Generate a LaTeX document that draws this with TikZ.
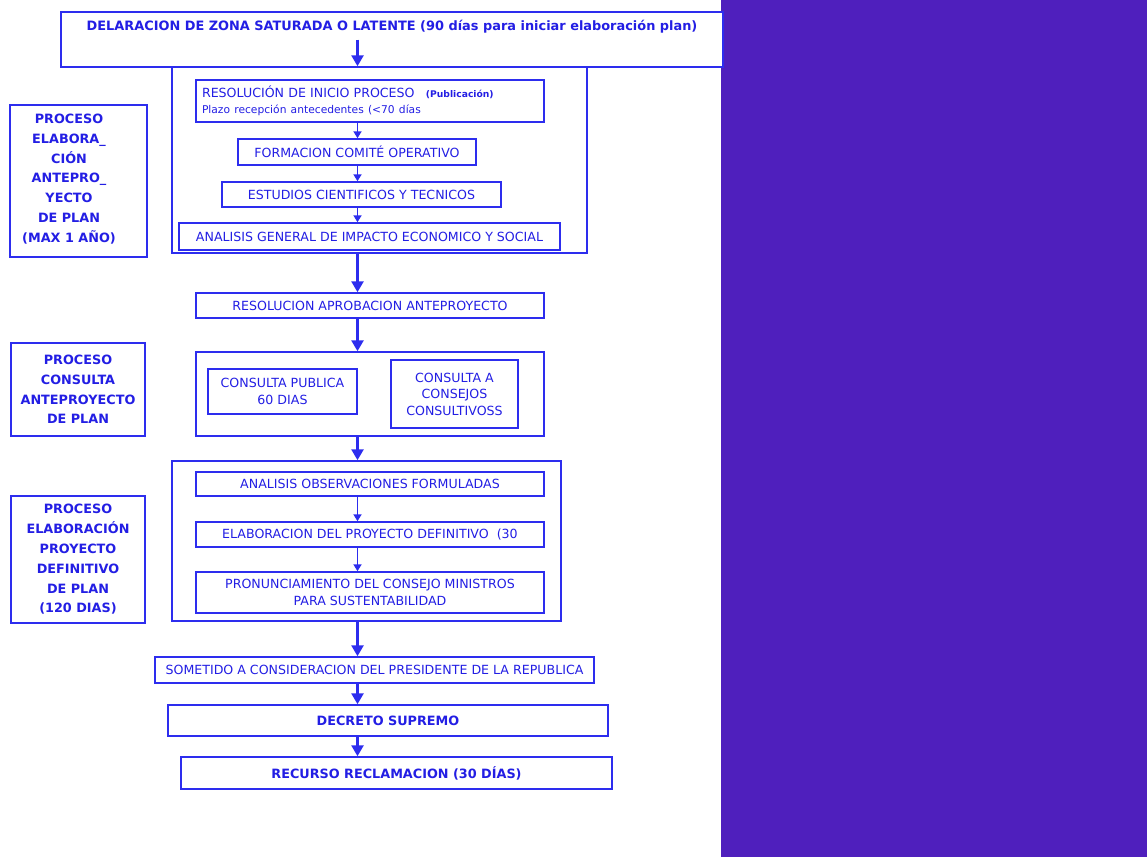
\documentclass[tikz,border=0pt]{standalone}
\usepackage{fontspec}
\setmainfont{DejaVu Sans}
\usetikzlibrary{arrows.meta}
\definecolor{fblue}{RGB}{45,45,238}
\definecolor{tblue}{RGB}{35,30,228}
\definecolor{purp}{RGB}{79,31,189}
\begin{document}
\begin{tikzpicture}[x=1pt,y=-1pt,
  box/.style={draw=fblue,line width=1.5pt,fill=white,inner sep=0pt,text=tblue,align=center,font=\fontsize{12.6}{16.5}\selectfont},
  lab/.style={draw=fblue,line width=1.5pt,fill=white,inner sep=0pt,text=tblue,align=center,font=\bfseries\fontsize{12.8}{19.8}\selectfont},
  txt/.style={inner sep=0pt,text=tblue,align=center},
  bigarr/.style={draw=fblue,line width=2.6pt,-{Triangle[width=12pt,length=11pt]}},
  smallarr/.style={draw=fblue,line width=1.8pt,-{Triangle[width=8pt,length=7pt]}}]
\useasboundingbox (0,0) rectangle (1147,857);
\fill[purp] (721,0) rectangle (1147,857);
\coordinate (axis) at (357.5,0);
% top
\node[box,minimum width=662pt,minimum height=55pt] (top) at (392,39.5) {};
\node[txt,font=\bfseries\fontsize{12.9}{15}\selectfont] (toptext) at (392,27) {DELARACION DE ZONA SATURADA O LATENTE (90 días para iniciar elaboración plan)};
% block 1
\node[box,minimum width=415pt,minimum height=186pt] (b1) at (379.5,160) {};
\node[box,minimum width=348pt,minimum height=42pt,text width=336pt,align=left] (res) at (370,101)
  {RESOLUCIÓN DE INICIO PROCESO\hspace{0.9em}{\bfseries\fontsize{9.2}{16}\selectfont(Publicación)}\\
   {\fontsize{10.7}{16}\selectfont Plazo recepción antecedentes (<70 días}};
\node[box,minimum width=238pt,minimum height=26pt] (form) at (357,152) {FORMACION COMITÉ OPERATIVO};
\node[box,minimum width=279pt,minimum height=25pt] (est) at (361.5,194.5) {ESTUDIOS CIENTIFICOS Y TECNICOS};
\node[box,minimum width=381pt,minimum height=27pt] (agen) at (369.5,236.5) {ANALISIS GENERAL DE IMPACTO ECONOMICO Y SOCIAL};
\node[lab,minimum width=137pt,minimum height=152pt] (l1) at (78.5,181) {};
\node[txt,font=\bfseries\fontsize{12.8}{19.8}\selectfont] (l1text) at (69,179)
  {PROCESO\\ELABORA\_\\CIÓN\\ANTEPRO\_\\YECTO\\DE PLAN\\(MAX 1 AÑO)};
% aprobacion
\node[box,minimum width=348pt,minimum height=25pt] (aprob) at (370,305.5) {RESOLUCION APROBACION ANTEPROYECTO};
% block 2
\node[box,minimum width=348pt,minimum height=84pt] (b2) at (370,394) {};
\node[box,minimum width=149pt,minimum height=45pt] (cp) at (282.5,391.5) {CONSULTA PUBLICA\\60 DIAS};
\node[box,minimum width=127pt,minimum height=68pt] (cc) at (454.5,394) {CONSULTA A\\CONSEJOS\\CONSULTIVOSS};
\node[lab,minimum width=134pt,minimum height=93pt] (l2) at (78,389.5) {PROCESO\\CONSULTA\\ANTEPROYECTO\\DE PLAN};
% block 3
\node[box,minimum width=389pt,minimum height=160pt] (b3) at (366.5,541) {};
\node[box,minimum width=348pt,minimum height=24pt] (obs) at (370,484) {ANALISIS OBSERVACIONES FORMULADAS};
\node[box,minimum width=348pt,minimum height=25pt] (def) at (370,534.5) {ELABORACION DEL PROYECTO DEFINITIVO\ \ (30};
\node[box,minimum width=348pt,minimum height=41pt] (pron) at (370,592.5) {PRONUNCIAMIENTO DEL CONSEJO MINISTROS\\PARA SUSTENTABILIDAD};
\node[lab,minimum width=134pt,minimum height=127pt] (l3) at (78,559.5) {PROCESO\\ELABORACIÓN\\PROYECTO\\DEFINITIVO\\DE PLAN\\(120 DIAS)};
% final
\node[box,minimum width=439pt,minimum height=26pt] (som) at (374.5,670) {SOMETIDO A CONSIDERACION DEL PRESIDENTE DE LA REPUBLICA};
\node[box,minimum width=440pt,minimum height=31pt,font=\bfseries\fontsize{12.8}{16}\selectfont] (dec) at (388,720.5) {DECRETO SUPREMO};
\node[box,minimum width=431pt,minimum height=32pt,font=\bfseries\fontsize{12.8}{16}\selectfont] (rec) at (396.5,773) {RECURSO RECLAMACION (30 DÍAS)};
% arrows
\draw[bigarr] ([yshift=-6pt]toptext.south -| axis) -- (b1.north -| axis);
\draw[smallarr] (res.south -| axis) -- (form.north -| axis);
\draw[smallarr] (form.south -| axis) -- (est.north -| axis);
\draw[smallarr] (est.south -| axis) -- (agen.north -| axis);
\draw[bigarr] (b1.south -| axis) -- (aprob.north -| axis);
\draw[bigarr] (aprob.south -| axis) -- (b2.north -| axis);
\draw[bigarr] (b2.south -| axis) -- (b3.north -| axis);
\draw[smallarr] (obs.south -| axis) -- (def.north -| axis);
\draw[smallarr] (def.south -| axis) -- (pron.north -| axis);
\draw[bigarr] (b3.south -| axis) -- (som.north -| axis);
\draw[bigarr] (som.south -| axis) -- (dec.north -| axis);
\draw[bigarr] (dec.south -| axis) -- (rec.north -| axis);
\end{tikzpicture}
\end{document}
